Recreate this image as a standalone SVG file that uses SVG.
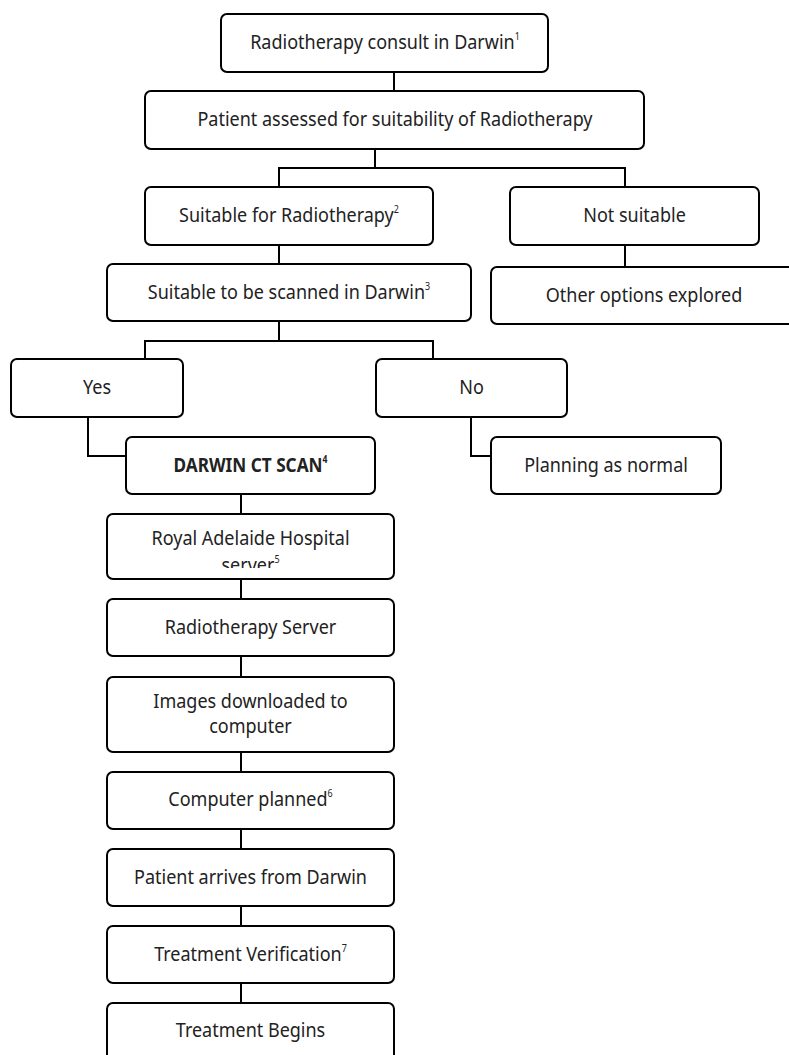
<svg xmlns="http://www.w3.org/2000/svg" width="789" height="1055" viewBox="0 0 789 1055">
<defs>
<style>
.box{fill:#ffffff;stroke:#000000;stroke-width:2}
.lbl{font-family:"Noto Sans","DejaVu Sans",sans-serif;font-size:20px;fill:#222222;text-anchor:middle}
.b{font-weight:bold}
.sup{font-size:10px}
.conn{fill:none;stroke:#000000;stroke-width:2}
</style>
<clipPath id="clipRoyal"><rect x="107" y="514" width="287" height="54"/></clipPath>
</defs>
<rect x="0" y="0" width="789" height="1055" fill="#ffffff"/>
<g id="connectors">
<path class="conn" d="M394,72 V91"/>
<path class="conn" d="M375,149 V168 M279,187 V168 H625 V187"/>
<path class="conn" d="M279,245 V264"/>
<path class="conn" d="M625,245 V267"/>
<path class="conn" d="M279,321 V341 M145,359 V341 H433 V359"/>
<path class="conn" d="M88,417 V456 H126"/>
<path class="conn" d="M471,417 V456 H491"/>
<path class="conn" d="M241,494 V514"/>
<path class="conn" d="M241,579 V599"/>
<path class="conn" d="M241,656 V677"/>
<path class="conn" d="M241,752 V772"/>
<path class="conn" d="M241,829 V849"/>
<path class="conn" d="M241,906 V926"/>
<path class="conn" d="M241,983 V1003"/>
</g>
<g id="n1"><rect class="box" x="221" y="14" width="327" height="58" rx="6"/><text class="lbl" transform="translate(385 49) scale(0.9 1)">Radiotherapy consult in Darwin<tspan class="sup" dy="-9">1</tspan></text></g>
<g id="n2"><rect class="box" x="145" y="91" width="499" height="58" rx="6"/><text class="lbl" transform="translate(395 126) scale(0.9 1)">Patient assessed for suitability of Radiotherapy</text></g>
<g id="n3"><rect class="box" x="145" y="187" width="288" height="58" rx="6"/><text class="lbl" transform="translate(289 222) scale(0.9 1)">Suitable for Radiotherapy<tspan class="sup" dy="-9">2</tspan></text></g>
<g id="n4"><rect class="box" x="510" y="187" width="249" height="58" rx="6"/><text class="lbl" transform="translate(634.5 222) scale(0.9 1)">Not suitable</text></g>
<g id="n5"><rect class="box" x="107" y="264" width="364" height="57" rx="6"/><text class="lbl" transform="translate(289 298.5) scale(0.9 1)">Suitable to be scanned in Darwin<tspan class="sup" dy="-9">3</tspan></text></g>
<g id="n6"><rect class="box" x="491" y="267" width="306" height="57" rx="6"/><text class="lbl" transform="translate(644 302) scale(0.9 1)">Other options explored</text></g>
<g id="n7"><rect class="box" x="11" y="359" width="172" height="58" rx="6"/><text class="lbl" transform="translate(97 394) scale(0.9 1)">Yes</text></g>
<g id="n8"><rect class="box" x="376" y="359" width="191" height="58" rx="6"/><text class="lbl" transform="translate(471.5 394) scale(0.9 1)">No</text></g>
<g id="n9"><rect class="box" x="126" y="437" width="249" height="57" rx="6"/><text class="lbl b" transform="translate(250.5 471.5) scale(0.86 1)">DARWIN CT SCAN<tspan class="sup" dy="-9">4</tspan></text></g>
<g id="n10"><rect class="box" x="491" y="437" width="230" height="57" rx="6"/><text class="lbl" transform="translate(606 471.5) scale(0.9 1)">Planning as normal</text></g>
<g id="n11"><rect class="box" x="107" y="514" width="287" height="65" rx="6"/><g clip-path="url(#clipRoyal)"><text class="lbl" transform="translate(250.5 545) scale(0.9 1)">Royal Adelaide Hospital</text><text class="lbl" transform="translate(250.5 572) scale(0.9 1)">server<tspan class="sup" dy="-9">5</tspan></text></g></g>
<g id="n12"><rect class="box" x="107" y="599" width="287" height="57" rx="6"/><text class="lbl" transform="translate(250.5 633.5) scale(0.9 1)">Radiotherapy Server</text></g>
<g id="n13"><rect class="box" x="107" y="677" width="287" height="75" rx="6"/><text class="lbl" transform="translate(250.5 708) scale(0.9 1)">Images downloaded to</text><text class="lbl" transform="translate(250.5 733) scale(0.9 1)">computer</text></g>
<g id="n14"><rect class="box" x="107" y="772" width="287" height="57" rx="6"/><text class="lbl" transform="translate(250.5 806) scale(0.9 1)">Computer planned<tspan class="sup" dy="-9">6</tspan></text></g>
<g id="n15"><rect class="box" x="107" y="849" width="287" height="57" rx="6"/><text class="lbl" transform="translate(250.5 883.5) scale(0.9 1)">Patient arrives from Darwin</text></g>
<g id="n16"><rect class="box" x="107" y="926" width="287" height="57" rx="6"/><text class="lbl" transform="translate(250.5 960.5) scale(0.9 1)">Treatment Verification<tspan class="sup" dy="-9">7</tspan></text></g>
<g id="n17"><rect class="box" x="107" y="1003" width="287" height="62" rx="6"/><text class="lbl" transform="translate(250.5 1037) scale(0.9 1)">Treatment Begins</text></g>
</svg>
